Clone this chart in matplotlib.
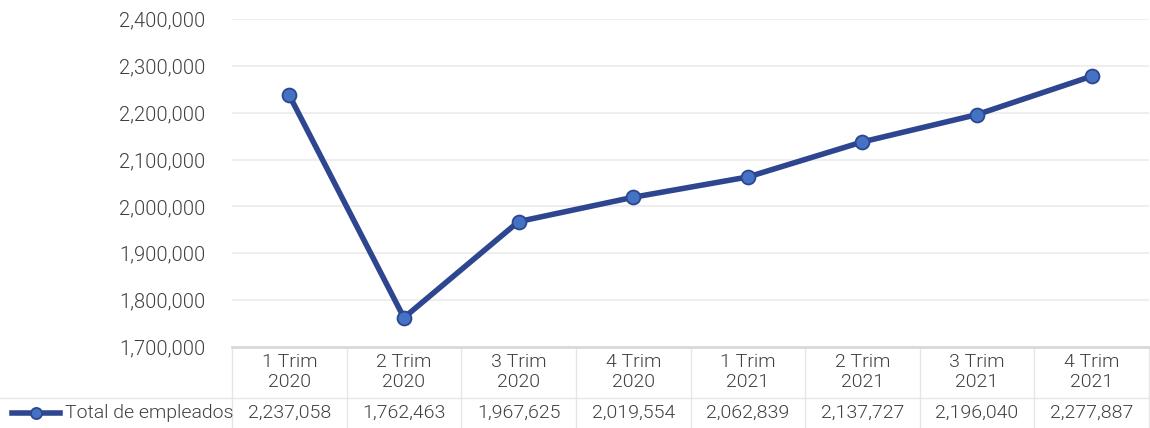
import numpy as np
import matplotlib.pyplot as plt
from matplotlib.lines import Line2D
from matplotlib.ticker import FuncFormatter
import matplotlib.transforms as mtrans

plt.rcParams['font.family'] = ['Roboto', 'DejaVu Sans']
plt.rcParams['font.weight'] = 300

trimestres = ["1 Trim\n2020", "2 Trim\n2020", "3 Trim\n2020", "4 Trim\n2020",
              "1 Trim\n2021", "2 Trim\n2021", "3 Trim\n2021", "4 Trim\n2021"]
empleados = [2237058, 1762463, 1967625, 2019554, 2062839, 2137727, 2196040, 2277887]
serie = "Total de empleados"

W, H = 1150, 428
fig = plt.figure(figsize=(W / 100, H / 100), dpi=100)
x0, x1, ytop, ybot = 232, 1149, 19, 347
ax = fig.add_axes([x0 / W, 1 - ybot / H, (x1 - x0) / W, (ybot - ytop) / H])

linea = "#2E4690"
punto = "#4472C4"
gris = "#D9D9D9"
texto = "#404040"
fs = 14

x = np.arange(len(empleados))
ax.plot(x, empleados, color=linea, lw=4, marker='o', ms=10,
        mfc=punto, mec=linea, mew=1.3, zorder=3, solid_capstyle='round')

ax.set_xlim(-0.5, len(empleados) - 0.5)
ax.set_ylim(1700000, 2400000)
ax.set_yticks(np.arange(1700000, 2400001, 100000))
ax.yaxis.set_major_formatter(FuncFormatter(lambda v, p: f"{int(v):,}"))
ax.tick_params(axis='y', length=0, pad=19, labelsize=14.5, labelcolor=texto)
ax.set_xticks([])
ax.grid(axis='y', color="#EBEBEB", lw=1.2)
ax.set_axisbelow(True)
for s in ['left', 'right', 'top']:
    ax.spines[s].set_visible(False)
ax.spines['bottom'].set_color(gris)
ax.spines['bottom'].set_linewidth(2)

# tabla de datos debajo del eje
trans = mtrans.blended_transform_factory(ax.transData, fig.transFigure)
def fy(py):
    return 1 - py / H

for i in range(len(empleados) + 1):
    ax.plot([i - 0.5, i - 0.5], [fy(347), fy(428)], color="#E6E6E6", lw=1,
            transform=trans, clip_on=False)
fig.add_artist(Line2D([0, 1], [fy(398), fy(398)], color="#E6E6E6", lw=1))

for i, (lab, v) in enumerate(zip(trimestres, empleados)):
    ax.text(i, fy(372), lab, transform=trans, ha='center', va='center',
            fontsize=fs, color=texto, linespacing=1.15)
    ax.text(i, fy(413), f"{v:,}", transform=trans, ha='center', va='center',
            fontsize=fs, color=texto)

fig.add_artist(Line2D([12 / W, 60 / W], [fy(413), fy(413)], color=linea, lw=4))
fig.add_artist(Line2D([36 / W], [fy(413)], marker='o', ms=8, mfc=punto,
                      mec=linea, mew=1.3))
fig.text(65 / W, fy(413), serie, ha='left', va='center', fontsize=fs, color=texto)

fig.savefig("out.png", dpi=100)
